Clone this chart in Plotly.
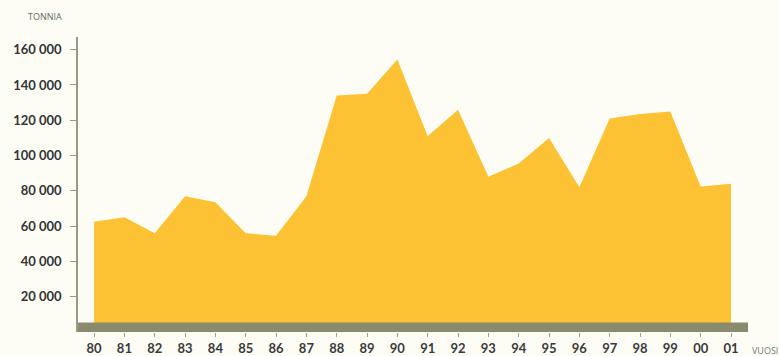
import plotly.graph_objects as go

# Annual tonnage, 1980-2001
years = [1980, 1981, 1982, 1983, 1984, 1985, 1986, 1987, 1988, 1989, 1990,
         1991, 1992, 1993, 1994, 1995, 1996, 1997, 1998, 1999, 2000, 2001]
tonnes = [62500, 65000, 56000, 77000, 73500, 56000, 54500, 77000, 134000, 135000, 154500,
          111000, 126000, 88000, 95500, 110000, 82000, 121000, 123500, 125000, 82500, 84000]
year_labels = ["80", "81", "82", "83", "84", "85", "86", "87", "88", "89", "90",
               "91", "92", "93", "94", "95", "96", "97", "98", "99", "00", "01"]
y_ticks = [20000, 40000, 60000, 80000, 100000, 120000, 140000, 160000]
y_tick_labels = ["20 000", "40 000", "60 000", "80 000", "100 000", "120 000", "140 000", "160 000"]

fig = go.Figure()
fig.add_trace(go.Scatter(
    x=years, y=tonnes, mode="lines", fill="tozeroy",
    line=dict(color="#fcc233", width=0), fillcolor="#fcc233",
    hoverinfo="skip", showlegend=False,
))

# baseline band along the x axis
fig.add_shape(type="rect", xref="paper", yref="y", x0=0, x1=1, y0=0, y1=5400,
              fillcolor="#8a8b6e", line=dict(width=0), layer="above")

fig.update_layout(
    width=779, height=356,
    margin=dict(l=78, r=31, t=37, b=24),
    paper_bgcolor="#fdfdf6", plot_bgcolor="#fdfdf6",
    font=dict(family="Lato", color="#333333"),
    xaxis=dict(
        range=[1979.47, 2001.56], tickvals=years, ticktext=year_labels,
        showgrid=False, zeroline=False, showline=False, automargin=False,
        ticks="outside", ticklen=4, tickwidth=1, tickcolor="#a0a08a",
        tickfont=dict(size=13, family="Lato", color="#3a3a3a", weight="bold"),
        fixedrange=True,
    ),
    yaxis=dict(
        range=[0, 167200], tickvals=y_ticks, ticktext=y_tick_labels,
        showgrid=False, zeroline=False, showline=True, linecolor="#9a9a7e", linewidth=1.5,
        ticks="outside", ticklen=6, tickwidth=1, tickcolor="#9a9a7e", automargin=False,
        tickfont=dict(size=13, family="Lato", color="#333333", weight="bold"),
        ticklabelstandoff=6,
        fixedrange=True,
    ),
    annotations=[
        dict(text="TONNIA", xref="paper", yref="paper", x=-0.05, y=1.07, xanchor="center",
             yanchor="middle", showarrow=False, font=dict(size=9, color="#666666", family="Open Sans")),
        dict(text="VUOSI", xref="paper", yref="paper", x=1.003, y=-0.035, xanchor="left",
             yanchor="top", showarrow=False, font=dict(size=9, color="#777777", family="Open Sans")),
    ],
)

fig.write_html("out.html")
